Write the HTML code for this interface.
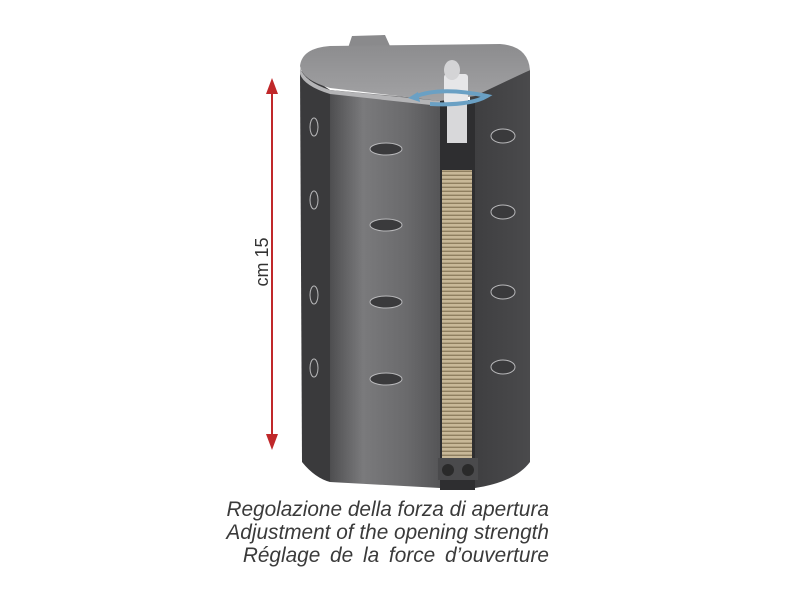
<!DOCTYPE html>
<html><head><meta charset="utf-8"><style>
body{margin:0;background:#fff;width:800px;height:600px;overflow:hidden}
.t{position:absolute;left:0;width:549px;text-align:right;font-family:"Liberation Sans",sans-serif;font-style:italic;font-size:20.8px;color:#3a3a3a;white-space:nowrap}
</style></head><body>
<svg width="800" height="600" style="position:absolute;left:0;top:0">
<defs>
<linearGradient id="front" x1="0" x2="1">
<stop offset="0" stop-color="#4e4e50"/><stop offset="0.3" stop-color="#7a7a7c"/><stop offset="0.7" stop-color="#6a6a6c"/><stop offset="1" stop-color="#555557"/>
</linearGradient>
<linearGradient id="right" x1="0" x2="1">
<stop offset="0" stop-color="#3e3e40"/><stop offset="1" stop-color="#4a4a4c"/>
</linearGradient>
<linearGradient id="top" x1="0" y1="0" x2="0" y2="1">
<stop offset="0" stop-color="#8c8c8e"/><stop offset="1" stop-color="#a2a2a4"/>
</linearGradient>
<pattern id="spring" width="6" height="4" patternUnits="userSpaceOnUse">
<rect width="6" height="4" fill="#c8b898"/><rect y="2.6" width="6" height="1.4" fill="#8f7f60"/>
</pattern>
</defs>
<line x1="272" y1="92" x2="272" y2="436" stroke="#c0282a" stroke-width="2"/>
<polygon points="272,78 266,94 278,94" fill="#c0282a"/>
<polygon points="272,450 266,434 278,434" fill="#c0282a"/>
<text transform="translate(268,262) rotate(-90)" text-anchor="middle" font-family="Liberation Sans" font-size="18" fill="#333">cm 15</text>
<path d="M348,48 L352,36 L385,35 L390,46 Z" fill="#8a8a8c"/>
<path d="M300,70 L330,90 L330,482 Q315,478 302,462 Z" fill="#3a3a3c"/>
<path d="M330,90 L440,100 L440,488 L330,482 Z" fill="url(#front)"/>
<path d="M470,96 L530,70 L530,462 Q515,482 475,488 L470,488 Z" fill="url(#right)"/>
<rect x="440" y="100" width="35" height="390" fill="#2e2e30"/>
<path d="M300,66 Q302,48 330,46 L500,44 Q528,46 530,70 L475,96 L440,101 L330,88 Q302,80 300,66 Z" fill="url(#top)"/>
<path d="M300,68 Q305,82 330,90 L440,101 L440,106 L330,94 Q304,86 300,74 Z" fill="#b4b4b6"/>
<rect x="447" y="103" width="20" height="40" fill="#d8d8da"/>
<rect x="444" y="74" width="24" height="30" rx="3" fill="#e6e6e8"/>
<ellipse cx="452" cy="70" rx="8" ry="10" fill="#d4d4d6"/>
<path d="M414,97 Q440,86 487,96 Q470,106 430,104" fill="none" stroke="#6aa0c4" stroke-width="4"/>
<polygon points="408,98 418,92 420,102" fill="#6aa0c4"/>
<rect x="442" y="170" width="30" height="290" fill="url(#spring)"/>
<rect x="438" y="458" width="40" height="22" fill="#4a4a4c"/>
<circle cx="448" cy="470" r="6" fill="#2a2a2a"/>
<circle cx="468" cy="470" r="6" fill="#2a2a2a"/>
<g fill="#3a3a3c" stroke="#b8b8ba" stroke-width="1">
<ellipse cx="386" cy="149" rx="16" ry="6"/><ellipse cx="386" cy="225" rx="16" ry="6"/>
<ellipse cx="386" cy="302" rx="16" ry="6"/><ellipse cx="386" cy="379" rx="16" ry="6"/>
<ellipse cx="314" cy="127" rx="4" ry="9"/><ellipse cx="314" cy="200" rx="4" ry="9"/>
<ellipse cx="314" cy="295" rx="4" ry="9"/><ellipse cx="314" cy="368" rx="4" ry="9"/>
<ellipse cx="503" cy="136" rx="12" ry="7"/><ellipse cx="503" cy="212" rx="12" ry="7"/>
<ellipse cx="503" cy="292" rx="12" ry="7"/><ellipse cx="503" cy="367" rx="12" ry="7"/>
</g>
</svg>
<div class="t" style="top:498px">Regolazione della forza di apertura</div>
<div class="t" style="top:521px">Adjustment of the opening strength</div>
<div class="t" style="top:544px;word-spacing:4px">Réglage de la force d’ouverture</div>
</body></html>
